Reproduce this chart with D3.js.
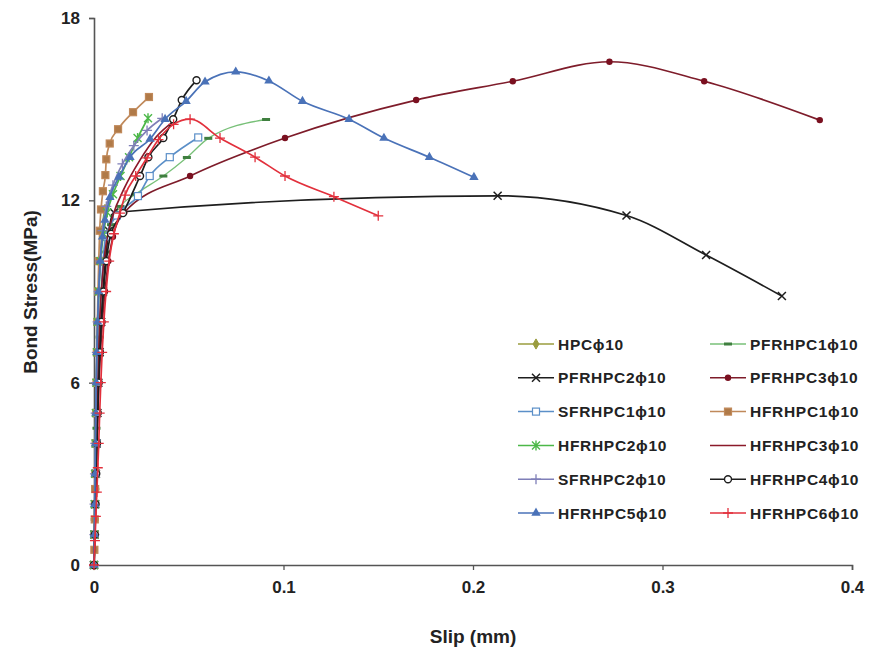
<!DOCTYPE html>
<html>
<head>
<meta charset="utf-8">
<script src="https://cdn.jsdelivr.net/npm/d3@7"></script>
<style>
  body { margin: 0; background: #fff; }
  text { font-family: "Liberation Sans", Arial, sans-serif; font-weight: bold; fill: #222; }
</style>
</head>
<body>
<script>
// slip (mm), bond stress (MPa)
var HPC = [[0,0],[0.0002,1],[0.0004,2],[0.0006,3],[0.0008,4],[0.001,5],[0.0013,6],[0.0016,7],[0.002,8],[0.0025,9],[0.0032,10],[0.0042,11],[0.0058,11.7]]
var PFRHPC1 = [[0,0],[0.0004,1.5],[0.0008,3],[0.0013,4.5],[0.002,6],[0.003,7.5],[0.0045,9],[0.0065,10.3],[0.009,11.2],[0.014,11.8],[0.022,12.2],[0.0366,12.8],[0.049,13.41],[0.0603,14.04],[0.0908,14.66]]
var PFRHPC2 = [[0,0],[0.0003,1],[0.0006,2],[0.001,3],[0.0014,4],[0.0018,5],[0.0023,6],[0.003,7],[0.0038,8],[0.0048,9],[0.006,10],[0.0078,11],[0.0105,11.6],[0.213,12.15],[0.281,11.5],[0.323,10.2],[0.363,8.85]]
var PFRHPC3 = [[0,0],[0.0003,0.5],[0.0005,1],[0.0007,1.5],[0.0009,2],[0.0011,2.5],[0.0013,3],[0.0016,4],[0.002,5],[0.0026,6],[0.0034,7],[0.0044,8],[0.0058,9],[0.0076,10],[0.01,10.8],[0.016,11.6],[0.0507,12.8],[0.1008,14.05],[0.170,15.3],[0.221,15.92],[0.272,16.56],[0.322,15.92],[0.383,14.64]]
var SFRHPC1 = [[0,0],[0.0003,1],[0.0006,2],[0.0009,3],[0.0012,4],[0.0015,5],[0.0019,6],[0.0024,7],[0.003,8],[0.0038,9],[0.0048,10],[0.0062,10.8],[0.012,11.5],[0.0232,12.14],[0.0294,12.8],[0.040,13.42],[0.055,14.07]]
var HFRHPC1 = [[0,0],[0.0002,0.5],[0.0003,1],[0.0004,1.5],[0.0005,2],[0.0006,2.5],[0.0007,3],[0.0009,4],[0.0011,5],[0.0013,6],[0.0015,7],[0.0018,8],[0.0021,9],[0.0025,10],[0.003,11],[0.0037,11.7],[0.0047,12.3],[0.006,12.83],[0.0065,13.35],[0.0083,13.87],[0.0127,14.34],[0.0206,14.9],[0.029,15.4]]
var HFRHPC2 = [[0,0],[0.0002,1],[0.0004,2],[0.0006,3],[0.0008,4],[0.001,5],[0.0013,6],[0.0016,7],[0.002,8],[0.0026,9],[0.0035,10],[0.005,10.9],[0.007,11.6],[0.01,12.2],[0.014,12.8],[0.0185,13.42],[0.023,14.05],[0.0285,14.7]]
var HFRHPC3 = [[0,0],[0.0006,2],[0.0012,4],[0.002,6],[0.003,8],[0.0045,9.5],[0.0065,10.6],[0.01,11.5],[0.016,12.4],[0.024,13.3],[0.033,14.1],[0.042,14.6]]
var SFRHPC2 = [[0,0],[0.0002,1],[0.0003,2],[0.0005,3],[0.0007,4],[0.0009,5],[0.0012,6],[0.0015,7],[0.0019,8],[0.0025,9],[0.0033,10],[0.0045,11],[0.0065,11.8],[0.01,12.5],[0.015,13.2],[0.021,13.8],[0.028,14.3],[0.036,14.7]]
var HFRHPC4 = [[0,0],[0.0004,1],[0.0008,2],[0.0012,3],[0.0016,4],[0.002,5],[0.0025,6],[0.0031,7],[0.0039,8],[0.005,9],[0.0065,10],[0.009,10.9],[0.0153,11.58],[0.0243,12.8],[0.0287,13.42],[0.0366,14.05],[0.0418,14.67],[0.0463,15.3],[0.0541,15.95]]
var HFRHPC5 = [[0,0],[0.0002,1],[0.0004,2],[0.0006,3],[0.0008,4],[0.001,5],[0.0012,6],[0.0015,7],[0.0019,8],[0.0025,9],[0.0033,10],[0.0045,10.8],[0.0058,11.35],[0.0084,12.1],[0.0132,12.77],[0.019,13.42],[0.0296,14.02],[0.0375,14.67],[0.0486,15.26],[0.0586,15.9],[0.0748,16.23],[0.0923,15.93],[0.110,15.26],[0.1346,14.67],[0.153,14.05],[0.177,13.42],[0.2005,12.76]]
var HFRHPC6 = [[0,0],[0.0005,0.8],[0.001,1.6],[0.0015,2.4],[0.002,3.2],[0.0025,4],[0.003,5],[0.0036,6],[0.0043,7],[0.0052,8],[0.0064,9],[0.008,10],[0.0105,10.9],[0.0137,11.58],[0.0164,12.17],[0.022,12.8],[0.028,13.4],[0.034,14.0],[0.042,14.5],[0.0507,14.67],[0.0665,14.05],[0.085,13.42],[0.1008,12.8],[0.1266,12.12],[0.150,11.49]]

var seriesNames = ["HPCϕ10","PFRHPC1ϕ10","PFRHPC2ϕ10","PFRHPC3ϕ10","SFRHPC1ϕ10","HFRHPC1ϕ10",
                   "HFRHPC2ϕ10","HFRHPC3ϕ10","SFRHPC2ϕ10","HFRHPC4ϕ10","HFRHPC5ϕ10","HFRHPC6ϕ10"]
var seriesData = [HPC, PFRHPC1, PFRHPC2, PFRHPC3, SFRHPC1, HFRHPC1, HFRHPC2, HFRHPC3, SFRHPC2, HFRHPC4, HFRHPC5, HFRHPC6]
var xTicks = [0, 0.1, 0.2, 0.3, 0.4]
var yTicks = [0, 6, 12, 18]

// line colour, marker type, marker fill
var styles = [
  {c: "#9a9c3e", m: "diamond", f: "#9a9c3e"},
  {c: "#78c078", m: "dash", f: "#3f7f3f"},
  {c: "#1e1e1e", m: "x", f: "none"},
  {c: "#7e1c2a", m: "circle", f: "#7a1020"},
  {c: "#5b8fc8", m: "square", f: "#fff"},
  {c: "#c0895a", m: "square", f: "#b07a48"},
  {c: "#4cb848", m: "star", f: "none"},
  {c: "#8b1a2a", m: "none", f: "none"},
  {c: "#7f7fb8", m: "plus", f: "none"},
  {c: "#1e1e1e", m: "ocircle", f: "#fff"},
  {c: "#4a72b8", m: "triangle", f: "#4a72b8"},
  {c: "#e2303c", m: "plus", f: "none"}
]

var width = 870, height = 654
var pad = {left: 94, right: 18, top: 18, bottom: 89}

var svg = d3.select("body").append("svg")
            .attr("width", width)
            .attr("height", height)

var xScale = d3.scaleLinear().domain([0, 0.4]).range([pad.left, width - pad.right])
var yScale = d3.scaleLinear().domain([0, 18]).range([height - pad.bottom, pad.top])

// axes
var xAxis = d3.axisBottom(xScale).tickValues(xTicks).tickSize(5).tickPadding(11)
                .tickFormat(function(d){ return d === 0 ? "0" : d3.format(".1f")(d) })
var yAxis = d3.axisLeft(yScale).tickValues(yTicks).tickSize(5).tickPadding(9)

var gx = svg.append("g")
   .attr("transform", "translate(0," + yScale(0) + ")")
   .call(xAxis)
var gy = svg.append("g")
   .attr("transform", "translate(" + xScale(0) + ",0)")
   .call(yAxis)

;[gx, gy].forEach(function(g){
  g.select(".domain").attr("stroke", "#555").attr("stroke-width", 1.6)
  g.selectAll(".tick line").attr("stroke", "#555").attr("stroke-width", 1.3)
  g.selectAll(".tick text").style("font-size", "17px").attr("fill", "#222")
})

// marker drawing
var drawMarker = function(g, type, colour, fill){
  if (type === "diamond") {
    g.append("path").attr("d", d3.symbol(d3.symbolDiamond, 30)()).attr("fill", fill).attr("stroke", colour)
  } else if (type === "dash") {
    g.append("rect").attr("x", -4).attr("y", -1.5).attr("width", 8).attr("height", 3).attr("fill", fill)
  } else if (type === "x") {
    g.append("path").attr("d", "M-4,-4L4,4M-4,4L4,-4").attr("stroke", colour).attr("stroke-width", 1.5)
  } else if (type === "circle") {
    g.append("circle").attr("r", 3.2).attr("fill", fill)
  } else if (type === "ocircle") {
    g.append("circle").attr("r", 3.5).attr("fill", fill).attr("stroke", colour).attr("stroke-width", 1.4)
  } else if (type === "square") {
    g.append("rect").attr("x", -3.5).attr("y", -3.5).attr("width", 7).attr("height", 7)
     .attr("fill", fill).attr("stroke", colour).attr("stroke-width", 1.2)
  } else if (type === "star") {
    g.append("path").attr("d", "M-4,-4L4,4M-4,4L4,-4M0,-5L0,5").attr("stroke", colour).attr("stroke-width", 1.4)
  } else if (type === "plus") {
    g.append("path").attr("d", "M-5,0L5,0M0,-5L0,5").attr("stroke", colour).attr("stroke-width", 1.3)
  } else if (type === "triangle") {
    g.append("path").attr("d", d3.symbol(d3.symbolTriangle, 38)()).attr("fill", fill)
  }
}

var line = d3.line()
             .x(function(d){ return xScale(d[0]) })
             .y(function(d){ return yScale(d[1]) })
             .curve(d3.curveMonotoneX)

var plot = svg.append("g")
seriesData.forEach(function(data, i){
  var st = styles[i]
  var sg = plot.append("g")
  sg.append("path")
    .datum(data)
    .attr("d", line)
    .attr("fill", "none")
    .attr("stroke", st.c)
    .attr("stroke-width", i === 1 ? 1.3 : 1.7)
  sg.selectAll(".pt")
    .data(data)
    .enter()
    .append("g")
    .attr("class", "pt")
    .attr("transform", function(d){ return "translate(" + xScale(d[0]) + "," + yScale(d[1]) + ")" })
    .each(function(){ drawMarker(d3.select(this), st.m, st.c, st.f) })
})

// legend
var legX = [518, 710]
var legY0 = 344, legDy = 33.8
var legend = svg.selectAll(".legend")
                .data(seriesNames)
                .enter()
                .append("g")
                .attr("class", "legend")
                .attr("transform", function(d, i){
                  return "translate(" + legX[i % 2] + "," + (legY0 + Math.floor(i / 2) * legDy) + ")"
                })
legend.append("line")
      .attr("x1", 0).attr("x2", 36)
      .attr("stroke", function(d, i){ return styles[i].c })
      .attr("stroke-width", 1.5)
legend.append("g")
      .attr("transform", "translate(18,0)")
      .each(function(d, i){ drawMarker(d3.select(this), styles[i].m, styles[i].c, styles[i].f) })
legend.append("text")
      .attr("x", 40)
      .attr("y", 5.5)
      .style("font-size", "15.5px")
      .style("letter-spacing", "0.7px")
      .text(function(d){ return d })

// axis titles
svg.append("text")
   .attr("x", (xScale(0) + xScale(0.4)) / 2)
   .attr("y", 643)
   .style("text-anchor", "middle")
   .style("font-size", "19px")
   .text("Slip (mm)")
svg.append("text")
   .attr("transform", "rotate(-90)")
   .attr("x", -292)
   .attr("y", 37)
   .style("text-anchor", "middle")
   .style("font-size", "19px")
   .text("Bond Stress(MPa)")
</script>
</body>
</html>
